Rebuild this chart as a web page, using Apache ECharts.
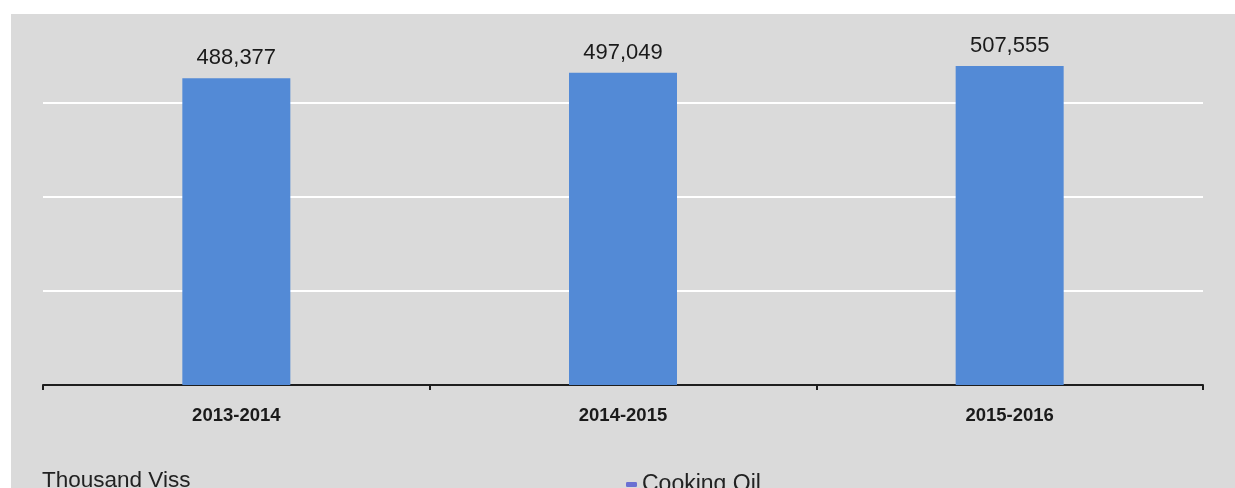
<!DOCTYPE html>
<html>
<head>
<meta charset="utf-8">
<script src="https://cdn.jsdelivr.net/npm/echarts@6/dist/echarts.min.js"></script>
<style>
html,body{margin:0;padding:0;background:#ffffff;}
#bg{position:absolute;left:11px;top:14px;width:1224px;height:474px;background:#dadada;}
#chart{position:absolute;left:0;top:0;width:1235px;height:488px;}
</style>
</head>
<body>
<div id="bg"></div>
<div id="chart"></div>
<script>
var categories = ['2013-2014', '2014-2015', '2015-2016'];
var cookingOil = [488377, 497049, 507555];
var seriesName = 'Cooking Oil';
var unitLabel = 'Thousand Viss';

var chart = echarts.init(document.getElementById('chart'), null, {renderer: 'canvas'});
chart.setOption({
  backgroundColor: 'transparent',
  animation: false,
  title: {
    text: unitLabel,
    left: 37,
    top: 464,
    textStyle: {fontFamily: 'Liberation Sans', fontSize: 22.5, fontWeight: 'normal', color: '#222'}
  },
  legend: {
    left: 621,
    top: 468,
    itemWidth: 11,
    itemHeight: 5,
    itemGap: 6,
    data: [{name: seriesName, itemStyle: {color: '#6a70d2'}}],
    textStyle: {fontFamily: 'Liberation Sans', fontSize: 23, color: '#222', padding: [0,0,0,0]}
  },
  grid: {left: 43, right: 32, top: 8, bottom: 103, containLabel: false},
  xAxis: {
    type: 'category',
    data: categories,
    axisLine: {show: true, lineStyle: {color: '#1e1e1e', width: 2}},
    axisTick: {show: true, length: 5, lineStyle: {color: '#1e1e1e', width: 2}},
    axisLabel: {fontFamily: 'Liberation Sans', fontSize: 18.5, fontWeight: 'bold', color: '#1a1a1a', margin: 21}
  },
  yAxis: {
    type: 'value',
    min: 0,
    max: 600000,
    interval: 150000,
    axisLabel: {show: false},
    axisLine: {show: false},
    axisTick: {show: false},
    splitLine: {show: true, lineStyle: {color: '#ffffff', width: 2}}
  },
  series: [{
    name: seriesName,
    type: 'bar',
    data: cookingOil,
    barWidth: 108,
    itemStyle: {color: '#538ad6'},
    label: {
      show: true,
      position: 'top',
      distance: 9,
      fontFamily: 'Liberation Sans',
      fontSize: 22,
      color: '#1a1a1a',
      formatter: function (p) { return p.value.toLocaleString('en-US'); }
    }
  }]
});
</script>
</body>
</html>
